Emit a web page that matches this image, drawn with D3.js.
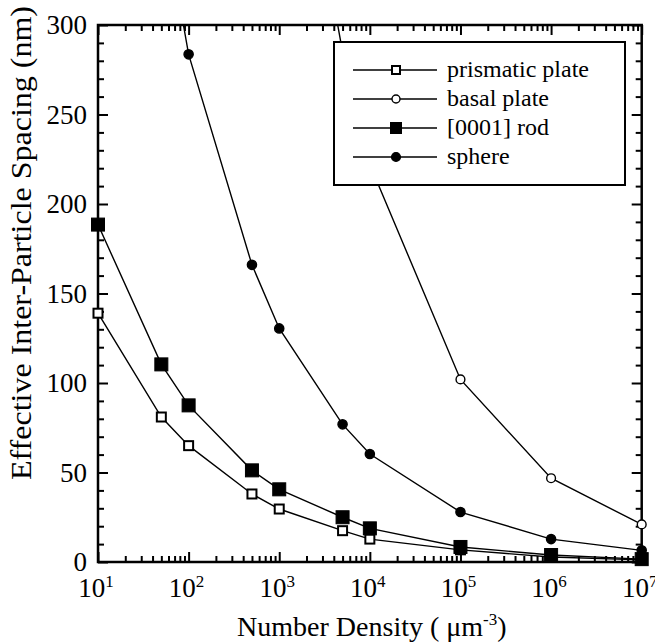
<!DOCTYPE html>
<html>
<head>
<meta charset="utf-8">
<script src="https://cdn.jsdelivr.net/npm/d3@7"></script>
<style>
  body { margin: 0; background: #fff; }
  svg { display: block; }
</style>
</head>
<body>
<div id="chart"></div>
<script>
// Data (x = number density, y = spacing in nm)
const density = [10, 50, 100, 500, 1000, 5000, 1e4, 1e5, 1e6, 1e7];
const prismaticPlate = [139, 81, 65, 38, 29.6, 17.5, 12.8, 6.8, 2.8, 1.2];
const basalPlate = [null, null, null, null, 480, 285, 222, 102, 46.8, 21];
const rod0001 = [188.5, 110.4, 87.5, 51.2, 40.6, 25, 18.8, 8.4, 3.9, 1.6];
const sphere = [null, 370, 283.6, 166, 130.5, 76.9, 60.3, 27.9, 12.8, 6.5];

const seriesNames = ["prismatic plate", "basal plate", "[0001] rod", "sphere"];
const yTicks = [0, 50, 100, 150, 200, 250, 300];
const xDecades = [1e1, 1e2, 1e3, 1e4, 1e5, 1e6, 1e7];

const width = 655, height = 644;
const margin = { top: 25, right: 13.3, bottom: 82, left: 98 };

const svg = d3.select("#chart").append("svg")
    .attr("width", width)
    .attr("height", height)
    .style("font-family", "'Liberation Serif', 'Times New Roman', serif");

const x = d3.scaleLog()
    .domain([10, 1e7])
    .range([margin.left, width - margin.right]);

const y = d3.scaleLinear()
    .domain([0, 300])
    .range([height - margin.bottom, margin.top]);

// clip for the lines
svg.append("clipPath").attr("id", "plotclip")
  .append("rect")
    .attr("x", x.range()[0])
    .attr("y", y.range()[1])
    .attr("width", x.range()[1] - x.range()[0])
    .attr("height", y.range()[0] - y.range()[1]);

// minor ticks for the log axis
const xMinor = [];
xDecades.slice(0, -1).forEach(d => {
    for (let k = 2; k <= 9; k++) xMinor.push(d * k);
});
const yMinor = d3.range(0, 301, 10).filter(v => v % 50 !== 0);

function tickAxis(axisFn, scale, values, size, transform) {
    const g = svg.append("g")
        .attr("transform", transform)
        .call(axisFn(scale).tickValues(values).tickSize(size).tickSizeOuter(0).tickFormat(""));
    g.select(".domain").remove();
    g.selectAll(".tick line").attr("stroke", "#000").attr("stroke-width", 2);
    return g;
}

const x0 = x.range()[0], x1 = x.range()[1];
const y0 = y.range()[0], y1 = y.range()[1];

// inside ticks on all four sides
tickAxis(d3.axisBottom, x, xDecades, -10, `translate(0,${y0})`);
tickAxis(d3.axisBottom, x, xMinor, -6, `translate(0,${y0})`);
tickAxis(d3.axisTop, x, xDecades, -10, `translate(0,${y1})`);
tickAxis(d3.axisTop, x, xMinor, -6, `translate(0,${y1})`);
tickAxis(d3.axisLeft, y, yTicks, -10, `translate(${x0},0)`);
tickAxis(d3.axisLeft, y, yMinor, -6, `translate(${x0},0)`);
tickAxis(d3.axisRight, y, yTicks, -10, `translate(${x1},0)`);
tickAxis(d3.axisRight, y, yMinor, -6, `translate(${x1},0)`);

// frame
svg.append("rect")
    .attr("x", x0).attr("y", y1)
    .attr("width", x1 - x0).attr("height", y0 - y1)
    .attr("fill", "none")
    .attr("stroke", "#000")
    .attr("stroke-width", 2.5);

// y tick labels
svg.append("g").selectAll("text")
    .data(yTicks)
    .join("text")
    .attr("x", x0 - 11)
    .attr("y", d => y(d))
    .attr("dy", "0.34em")
    .attr("text-anchor", "end")
    .style("font-size", "27px")
    .text(d => d);

// x tick labels with superscript exponents
const xl = svg.append("g").selectAll("text")
    .data(xDecades)
    .join("text")
    .attr("x", d => x(d) - 2)
    .attr("y", y0 + 35)
    .attr("text-anchor", "middle")
    .style("font-size", "27px");
xl.append("tspan").text("10");
xl.append("tspan")
    .attr("dy", -10)
    .style("font-size", "17px")
    .text(d => Math.round(Math.log10(d)));

// axis titles
const xt = svg.append("text")
    .attr("x", (x0 + x1) / 2 + 2)
    .attr("y", 636)
    .attr("text-anchor", "middle")
    .style("font-size", "28px");
xt.append("tspan").text("Number Density ( \u03bcm");
xt.append("tspan").attr("dy", -11).style("font-size", "17px").text("-3");
xt.append("tspan").attr("dy", 11).text(")");

svg.append("text")
    .attr("transform", "translate(31,243) rotate(-90)")
    .attr("text-anchor", "middle")
    .attr("textLength", 474)
    .attr("lengthAdjust", "spacingAndGlyphs")
    .style("font-size", "29px")
    .text("Effective Inter-Particle Spacing (nm)");

// series
const allSeries = [
    { name: seriesNames[0], values: prismaticPlate, shape: "square", fill: "#fff", size: 9 },
    { name: seriesNames[2], values: rod0001, shape: "square", fill: "#000", size: 13 },
    { name: seriesNames[3], values: sphere, shape: "circle", fill: "#000", size: 4.6 },
    { name: seriesNames[1], values: basalPlate, shape: "circle", fill: "#fff", size: 4.4 }
];

const line = d3.line()
    .defined(d => d[1] != null)
    .x(d => x(d[0]))
    .y(d => y(d[1]));

function drawMarker(sel, s) {
    if (s.shape === "square") {
        sel.append("rect")
            .attr("x", -s.size / 2).attr("y", -s.size / 2)
            .attr("width", s.size).attr("height", s.size)
            .attr("fill", s.fill)
            .attr("stroke", "#000")
            .attr("stroke-width", s.fill === "#fff" ? 2 : 1);
    } else {
        sel.append("circle")
            .attr("r", s.size)
            .attr("fill", s.fill)
            .attr("stroke", "#000")
            .attr("stroke-width", 1.4);
    }
}

allSeries.forEach(s => {
    const pts = density.map((d, i) => [d, s.values[i]]);
    svg.append("path")
        .datum(pts)
        .attr("clip-path", "url(#plotclip)")
        .attr("fill", "none")
        .attr("stroke", "#000")
        .attr("stroke-width", 1.4)
        .attr("d", line);

    svg.append("g").selectAll("g")
        .data(pts.filter(p => p[1] != null && p[1] <= 300))
        .join("g")
        .attr("transform", p => `translate(${x(p[0])},${y(p[1])})`)
        .each(function () { drawMarker(d3.select(this), s); });
});

// legend
const legend = svg.append("g").attr("transform", "translate(334,42)");
legend.append("rect")
    .attr("width", 291).attr("height", 143)
    .attr("fill", "#fff")
    .attr("stroke", "#000")
    .attr("stroke-width", 2);

const legendOrder = [allSeries[0], allSeries[3], allSeries[1], allSeries[2]];
const legendSize = { "prismatic plate": 8, "basal plate": 4, "[0001] rod": 11, "sphere": 4.4 };
legendOrder.forEach((s, i) => {
    const row = legend.append("g").attr("transform", `translate(0,${28 + i * 29})`);
    row.append("line")
        .attr("x1", 19).attr("x2", 103)
        .attr("stroke", "#000").attr("stroke-width", 1.6);
    const m = row.append("g").attr("transform", "translate(62,0)");
    drawMarker(m, Object.assign({}, s, { size: legendSize[s.name] }));
    row.append("text")
        .attr("x", 113)
        .attr("dy", "0.3em")
        .style("font-size", "24px")
        .text(s.name);
});
</script>
</body>
</html>
